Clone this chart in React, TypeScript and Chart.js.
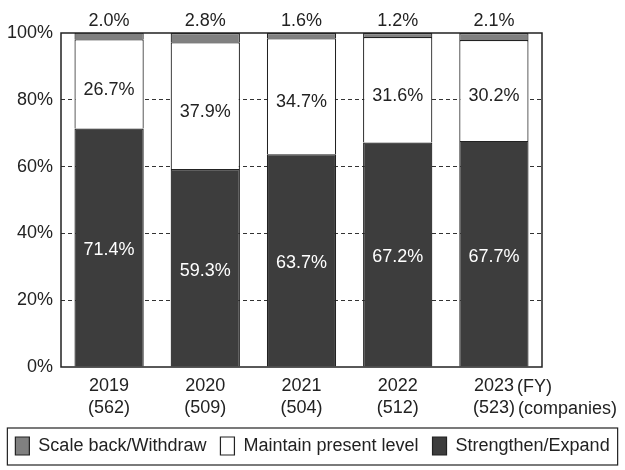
import React, { useEffect, useRef } from "react";
import { Chart, registerables } from "chart.js";
Chart.register(...registerables);

const years = ["2019", "2020", "2021", "2022", "2023"];
const companies = ["(562)", "(509)", "(504)", "(512)", "(523)"];
const strengthen = [71.4, 59.3, 63.7, 67.2, 67.7];
const maintain = [26.7, 37.9, 34.7, 31.6, 30.2];
const scaleBack = [2.0, 2.8, 1.6, 1.2, 2.1];
const seriesNames = ["Strengthen/Expand", "Maintain present level", "Scale back/Withdraw"];
const yearUnit = "(FY)";
const countUnit = "(companies)";

const FONT = '"Liberation Sans", Arial, Helvetica, sans-serif';
const FS = 18;
const INK = "#222222";

const annotatePlugin = {
  id: "annotate",
  afterDatasetsDraw(chart: any) {
    const ctx = chart.ctx;
    const area = chart.chartArea;
    ctx.save();
    ctx.font = `${FS}px ${FONT}`;
    ctx.textAlign = "center";
    ctx.textBaseline = "middle";
    chart.data.datasets.forEach((ds: any, di: number) => {
      const meta = chart.getDatasetMeta(di);
      meta.data.forEach((bar: any, i: number) => {
        const v = ds.data[i] as number;
        const txt = v.toFixed(1) + "%";
        const p = bar.getProps(["x", "y", "base"], true);
        if (di === 2) {
          ctx.fillStyle = INK;
          ctx.fillText(txt, p.x, area.top - 12);
        } else if (di === 1) {
          ctx.fillStyle = INK;
          ctx.fillText(txt, p.x, (p.y + p.base) / 2 + 6);
        } else {
          ctx.fillStyle = "#ffffff";
          ctx.fillText(txt, p.x, (p.y + p.base) / 2 + 3);
        }
      });
    });
    // plot frame
    ctx.strokeStyle = INK;
    ctx.lineWidth = 1.5;
    ctx.strokeRect(area.left, area.top, area.right - area.left, area.bottom - area.top);
    ctx.restore();
  },
  afterDraw(chart: any) {
    const ctx = chart.ctx;
    const xs = chart.scales.x;
    const area = chart.chartArea;
    ctx.save();
    ctx.font = `${FS}px ${FONT}`;
    ctx.fillStyle = INK;
    ctx.textBaseline = "middle";
    ctx.textAlign = "left";
    const last = years.length - 1;
    const cx = xs.getPixelForValue(last);
    const w1 = ctx.measureText(years[last]).width;
    const w2 = ctx.measureText(companies[last]).width;
    ctx.fillText(yearUnit, cx + w1 / 2 + 3, area.bottom + 20);
    ctx.fillText(countUnit, cx + w2 / 2 + 3, area.bottom + 42);
    // legend frame
    const boxes = chart.legend?.legendHitBoxes || [];
    if (boxes.length) {
      let l = Infinity, r = -Infinity, t = Infinity, b = -Infinity;
      boxes.forEach((h: any) => {
        l = Math.min(l, h.left);
        r = Math.max(r, h.left + h.width);
        t = Math.min(t, h.top);
        b = Math.max(b, h.top + h.height);
      });
      const cy = (t + b) / 2;
      ctx.strokeStyle = INK;
      ctx.lineWidth = 1.2;
      ctx.strokeRect(l - 8, cy - 18, r - l + 16, 37);
    }
    ctx.restore();
  },
};

export default function App() {
  const ref = useRef<HTMLCanvasElement>(null);
  useEffect(() => {
    if (!ref.current) return;
    const chart = new Chart(ref.current, {
      type: "bar",
      data: {
        labels: years.map((y, i) => [y, companies[i]]),
        datasets: [
          { label: seriesNames[0], data: strengthen, backgroundColor: "#3d3d3d", borderColor: INK, borderWidth: 1.2 },
          { label: seriesNames[1], data: maintain, backgroundColor: "#ffffff", borderColor: INK, borderWidth: 1.2 },
          { label: seriesNames[2], data: scaleBack, backgroundColor: "#808080", borderColor: INK, borderWidth: 1.2 },
        ],
      },
      options: {
        animation: false,
        responsive: false,
        maintainAspectRatio: false,
        layout: { padding: { top: 33, left: 0, right: 0, bottom: 5 } },
        datasets: { bar: { barPercentage: 0.72, categoryPercentage: 1 } },
        plugins: {
          legend: {
            position: "bottom",
            reverse: true,
            labels: {
              boxWidth: 14,
              boxHeight: 18,
              padding: 14,
              color: INK,
              font: { family: FONT, size: FS },
            },
          },
          tooltip: { enabled: false },
        },
        scales: {
          x: {
            stacked: true,
            grid: { display: false },
            border: { display: false },
            ticks: { color: INK, font: { family: FONT, size: FS, lineHeight: 22 / FS }, padding: 0, maxRotation: 0 },
            afterFit: (s: any) => { s.height = 56; },
          },
          y: {
            stacked: true,
            min: 0,
            max: 100,
            border: { display: false, dash: [4, 3] },
            grid: {
              drawTicks: false,
              lineWidth: 1,
              color: (c: any) => (c.tick && (c.tick.value === 0 || c.tick.value === 100) ? "rgba(0,0,0,0)" : "#333333"),
            },
            ticks: {
              stepSize: 20,
              padding: 8,
              color: INK,
              font: { family: FONT, size: FS },
              callback: (v: any) => v + "%",
            },
            afterFit: (s: any) => { s.width = 61; },
          },
          y2: {
            position: "right",
            display: true,
            grid: { display: false },
            border: { display: false },
            ticks: { display: false },
            afterFit: (s: any) => { s.width = 83; },
          },
        },
      },
      plugins: [annotatePlugin],
    });
    return () => chart.destroy();
  }, []);
  return (
    <div style={{ position: "absolute", left: 0, top: 0, width: 625, height: 470, background: "#fff" }}>
      <canvas ref={ref} width={625} height={470} style={{ display: "block" }} />
    </div>
  );
}
